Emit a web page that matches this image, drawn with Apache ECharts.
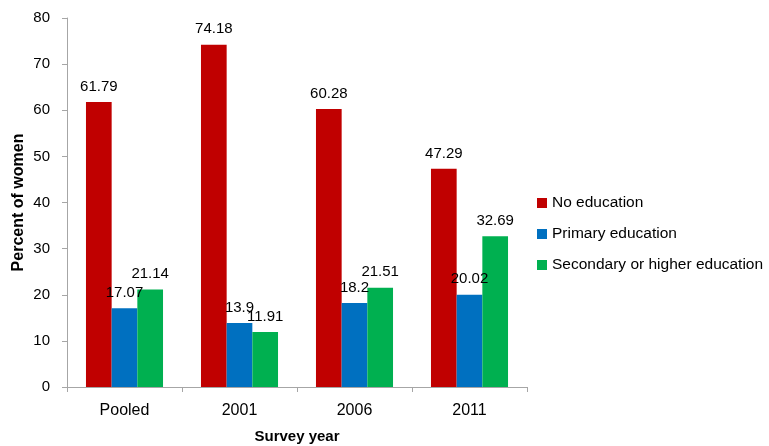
<!DOCTYPE html>
<html><head><meta charset="utf-8">
<script src="https://cdn.jsdelivr.net/npm/echarts@6/dist/echarts.min.js"></script>
<style>html,body{margin:0;padding:0;background:#fff}#c{width:769px;height:446px}</style>
</head><body><div id="c"></div>
<script>
const categories = ['Pooled', '2001', '2006', '2011'];
const noEducation = [61.79, 74.18, 60.28, 47.29];
const primaryEducation = [17.07, 13.9, 18.2, 20.02];
const secondaryEducation = [21.14, 11.91, 21.51, 32.69];
const seriesNames = ['No education', 'Primary education', 'Secondary or higher education'];
const colors = ['#C00000', '#0070C0', '#00B050'];
const FONT = 'Liberation Sans';
const chart = echarts.init(document.getElementById('c'));
const label = {show: true, position: 'top', distance: 8, color: '#000', fontFamily: FONT, fontSize: 15};
chart.setOption({
  animation: false,
  grid: {left: 67, right: 242, top: 18, bottom: 59, containLabel: false, outerBoundsMode: 'none'},
  legend: {
    orient: 'vertical', left: 532, top: 190, itemWidth: 10, itemHeight: 10, itemGap: 15,
    icon: 'rect',
    textStyle: {fontFamily: FONT, fontSize: 15.5, color: '#000'},
    data: seriesNames
  },
  xAxis: {
    type: 'category', data: categories,
    name: 'Survey year', nameLocation: 'middle', nameGap: 42,
    nameTextStyle: {fontFamily: FONT, fontSize: 15, fontWeight: 'bold', color: '#000'},
    axisLine: {lineStyle: {color: '#a6a6a6'}},
    axisTick: {show: true, length: 5, lineStyle: {color: '#a6a6a6'}},
    axisLabel: {fontFamily: FONT, fontSize: 16, color: '#000', margin: 16}
  },
  yAxis: {
    type: 'value', min: 0, max: 80, interval: 10,
    name: 'Percent of women', nameLocation: 'middle', nameGap: 40, nameRotate: 90,
    nameMoveOverlap: false,
    nameTextStyle: {fontFamily: FONT, fontSize: 16, fontWeight: 'bold', color: '#000'},
    axisLine: {show: true, lineStyle: {color: '#a6a6a6'}},
    axisTick: {show: true, length: 5, lineStyle: {color: '#a6a6a6'}},
    axisLabel: {fontFamily: FONT, fontSize: 15, color: '#000', margin: 17},
    splitLine: {show: false}
  },
  series: [
    {name: seriesNames[0], type: 'bar', data: noEducation, itemStyle: {color: colors[0]}, barGap: '0%', barCategoryGap: '33%', label},
    {name: seriesNames[1], type: 'bar', data: primaryEducation, itemStyle: {color: colors[1]}, barGap: '0%', barCategoryGap: '33%', label},
    {name: seriesNames[2], type: 'bar', data: secondaryEducation, itemStyle: {color: colors[2]}, barGap: '0%', barCategoryGap: '33%', label}
  ]
});
</script></body></html>
